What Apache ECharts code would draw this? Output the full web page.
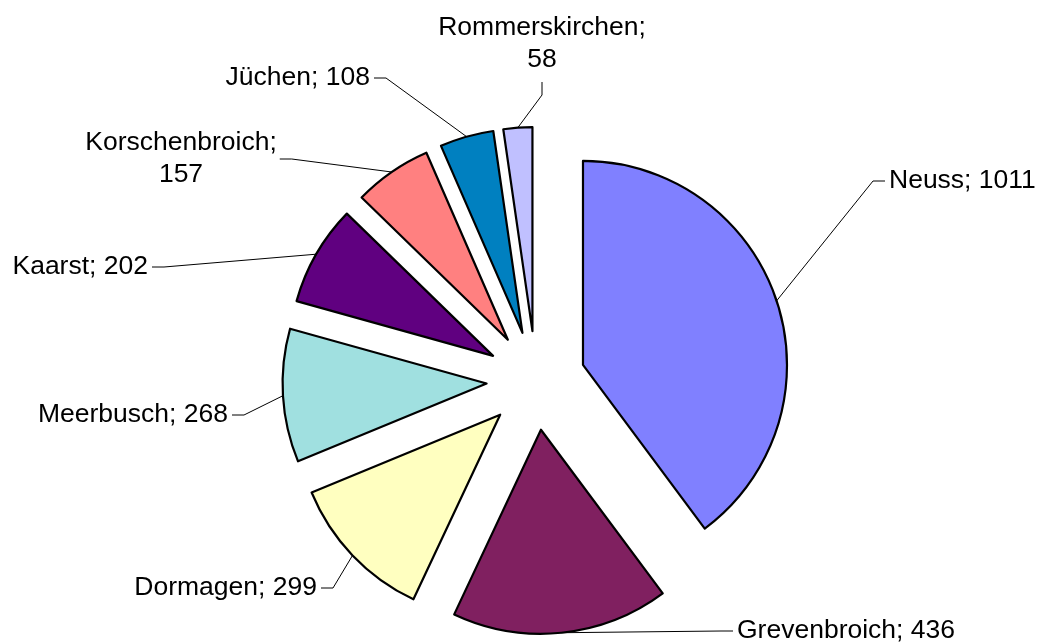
<!DOCTYPE html>
<html>
<head>
<meta charset="utf-8">
<script src="https://cdn.jsdelivr.net/npm/echarts@6/dist/echarts.min.js"></script>
<style>
html, body { margin: 0; padding: 0; background: #fff; }
#main { width: 1037px; height: 644px; }
</style>
</head>
<body>
<div id="main"></div>
<script>
// Daten
var orte = ['Neuss', 'Grevenbroich', 'Dormagen', 'Meerbusch', 'Kaarst', 'Korschenbroich', 'Jüchen', 'Rommerskirchen'];
var werte = [1011, 436, 299, 268, 202, 157, 108, 58];
var farben = ['#8080ff', '#802060', '#ffffc0', '#a0e0e0', '#600080', '#ff8080', '#0080c0', '#c0c0ff'];
var umbruch = [false, false, false, false, false, true, false, true];

// Geometrie der Torte
var mitte = [536, 380.5];
var radius = 204;
var versatz = 49.5;

// Lage der Beschriftungen
var labelPos = [
    {x: 889, y: 181, align: 'left'},
    {x: 737, y: 631, align: 'left'},
    {x: 317, y: 588, align: 'right'},
    {x: 228, y: 415, align: 'right'},
    {x: 148, y: 267, align: 'right'},
    {x: 181, y: 159, align: 'center', side: 'right'},
    {x: 370, y: 78, align: 'right'},
    {x: 542, y: 44, align: 'center', side: 'bottom'}
];

var summe = werte.reduce(function (a, b) { return a + b; }, 0);

// Mittelwinkel (im Uhrzeigersinn ab 12 Uhr) jedes Stücks
function mittelWinkel(i) {
    var vorher = 0;
    for (var k = 0; k < i; k++) vorher += werte[k];
    return (vorher + werte[i] / 2) / summe * Math.PI * 2;
}

var myChart = echarts.init(document.getElementById('main'));

// jedes Stück ist eine eigene Torte, nach außen verschoben (explodiert)
var serien = orte.map(function (ort, i) {
    var a = mittelWinkel(i);
    var c = [mitte[0] + versatz * Math.sin(a), mitte[1] - versatz * Math.cos(a)];
    return {
        type: 'pie',
        center: c,
        radius: radius,
        startAngle: 90,
        clockwise: true,
        avoidLabelOverlap: false,
        silent: true,
        emphasis: {disabled: true},
        data: orte.map(function (name, k) {
            var sichtbar = k === i;
            return {
                name: name,
                value: werte[k],
                itemStyle: sichtbar
                    ? {color: farben[k], borderColor: '#000', borderWidth: 2.2}
                    : {color: 'rgba(0,0,0,0)', borderWidth: 0},
                label: {show: sichtbar},
                labelLine: {show: sichtbar}
            };
        }),
        label: {
            position: 'outside',
            color: '#000',
            fontFamily: 'Liberation Sans, Arial, sans-serif',
            fontSize: 26.5,
            lineHeight: 32,
            formatter: function (p) {
                return umbruch[p.dataIndex] ? p.name + ';\n' + p.value : p.name + '; ' + p.value;
            }
        },
        labelLine: {
            lineStyle: {color: '#000', width: 1}
        },
        labelLayout: function (params) {
            var pos = labelPos[params.dataIndex];
            var w = params.labelRect.width;
            var h = params.labelRect.height;
            var start = [c[0] + radius * Math.sin(a), c[1] - radius * Math.cos(a)];
            var ende, knick;
            if (pos.side === 'bottom') {
                ende = [pos.x, pos.y + h / 2 + 6];
                knick = [pos.x, ende[1] + 13];
            } else if (pos.side === 'right') {
                ende = [pos.x + w / 2 + 3, pos.y];
                knick = [ende[0] + 12, pos.y];
            } else if (pos.align === 'left') {
                ende = [pos.x - 4, pos.y];
                knick = [ende[0] - 12, pos.y];
            } else {
                ende = [pos.x + 4, pos.y];
                knick = [ende[0] + 12, pos.y];
            }
            return {
                x: pos.x,
                y: pos.y,
                align: pos.align,
                verticalAlign: 'middle',
                labelLinePoints: [start, knick, ende]
            };
        }
    };
});

myChart.setOption({
    animation: false,
    backgroundColor: '#ffffff',
    series: serien
});
</script>
</body>
</html>
